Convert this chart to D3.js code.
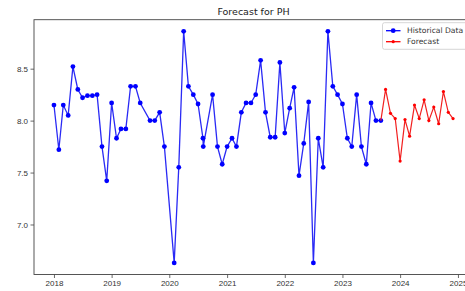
<!DOCTYPE html>
<html>
<head>
<meta charset="utf-8">
<script src="https://cdn.jsdelivr.net/npm/d3@7"></script>
<style>
  body { margin: 0; background: #fff; }
  svg { display: block; font-family: "DejaVu Sans", sans-serif; }
  .axis text { font-size: 8px; fill: #333; }
  .axis line { stroke: #444; stroke-width: 0.8; }
</style>
</head>
<body>
<svg id="chart"></svg>
<script>
// historical pH readings (dates as read from the x positions)
const histDates = [
  "2018-01-01","2018-02-01","2018-03-01","2018-04-01","2018-05-01","2018-06-01",
  "2018-07-01","2018-08-01","2018-09-01","2018-10-01","2018-11-01","2018-12-01",
  "2019-01-01","2019-02-01","2019-03-01","2019-04-01","2019-05-01","2019-06-01",
  "2019-07-01","2019-09-01","2019-10-01","2019-11-01","2019-12-01",
  "2020-02-01","2020-03-01","2020-04-01","2020-05-01","2020-06-01","2020-07-01",
  "2020-08-01","2020-08-03","2020-10-01","2020-11-01","2020-12-01",
  "2021-01-01","2021-02-01","2021-03-01","2021-04-01","2021-05-01","2021-06-01",
  "2021-07-01","2021-08-01","2021-09-01","2021-10-01","2021-11-01","2021-12-01",
  "2022-01-01","2022-02-01","2022-03-01","2022-04-01","2022-05-01","2022-06-01",
  "2022-07-01","2022-08-01","2022-09-01","2022-10-01","2022-11-01","2022-12-01",
  "2023-01-01","2023-02-01","2023-03-01","2023-04-01","2023-05-01","2023-06-01",
  "2023-07-01","2023-08-01","2023-09-01"
];
const histValues = [
  8.15, 7.72, 8.15, 8.05, 8.52, 8.30,
  8.22, 8.24, 8.24, 8.25, 7.75, 7.42,
  8.17, 7.83, 7.92, 7.92, 8.33, 8.33,
  8.17, 8.00, 8.00, 8.08, 7.75,
  6.63, 7.55, 8.86, 8.33, 8.25, 8.16,
  7.83, 7.75, 8.25, 7.75, 7.58,
  7.75, 7.83, 7.75, 8.08, 8.17, 8.17,
  8.25, 8.58, 8.08, 7.84, 7.84, 8.56,
  7.88, 8.12, 8.32, 7.47, 7.78, 8.18,
  6.63, 7.83, 7.55, 8.86, 8.33, 8.25,
  8.16, 7.83, 7.75, 8.25, 7.75, 7.58,
  8.17, 8.00, 8.00
];

const fcDates = [
  "2023-10-01","2023-11-01","2023-12-01","2024-01-01","2024-02-01","2024-03-01",
  "2024-04-01","2024-05-01","2024-06-01","2024-07-01","2024-08-01","2024-09-01",
  "2024-10-01","2024-11-01","2024-12-01"
];
const fcValues = [
  8.30, 8.07, 8.02, 7.61, 8.01, 7.85,
  8.15, 8.02, 8.20, 8.00, 8.13, 7.97,
  8.28, 8.08, 8.02
];

const yTicks = [7.0, 7.5, 8.0, 8.5];

const W = 465, H = 291;
const margin = {top: 19.7, right: -8, bottom: 16.5, left: 34};

const parse = d3.timeParse("%Y-%m-%d");
const hist = histDates.map((d, i) => ({date: parse(d), value: histValues[i]}));
const fc = fcDates.map((d, i) => ({date: parse(d), value: fcValues[i]}));
const all = hist.concat(fc);

let svg = d3.select("#chart").attr("width", W).attr("height", H);

const x0 = d3.extent(all, d => d.date);
const xPad = (x0[1] - x0[0]) * 0.05;
const xScale = d3.scaleTime()
  .domain([new Date(+x0[0] - xPad), new Date(+x0[1] + xPad)])
  .range([margin.left, W - margin.right]);

const y0 = d3.extent(all, d => d.value);
const yPad = (y0[1] - y0[0]) * 0.05;
const yScale = d3.scaleLinear()
  .domain([y0[0] - yPad, y0[1] + yPad])
  .range([H - margin.bottom, margin.top]);

// axes
svg.append("g")
  .attr("class", "axis")
  .attr("transform", `translate(0,${H - margin.bottom})`)
  .call(d3.axisBottom(xScale)
    .ticks(d3.timeYear.every(1))
    .tickFormat(d3.timeFormat("%Y"))
    .tickSize(3.5)
    .tickPadding(2.5))
  .call(g => g.select(".domain").remove());

svg.append("g")
  .attr("class", "axis")
  .attr("transform", `translate(${margin.left},0)`)
  .call(d3.axisLeft(yScale)
    .tickValues(yTicks)
    .tickFormat(d3.format(".1f"))
    .tickSize(3.5)
    .tickPadding(2.5))
  .call(g => g.select(".domain").remove());

// frame
svg.append("rect")
  .attr("x", margin.left)
  .attr("y", margin.top)
  .attr("width", W - margin.right - margin.left)
  .attr("height", H - margin.bottom - margin.top)
  .attr("fill", "none")
  .attr("stroke", "#444")
  .attr("stroke-width", 0.9);

const line = d3.line()
  .x(d => xScale(d.date))
  .y(d => yScale(d.value));

// historical
svg.append("path")
  .datum(hist)
  .attr("fill", "none")
  .attr("stroke", "#2a2af5")
  .attr("stroke-width", 1.3)
  .attr("d", line);

svg.append("g")
  .selectAll("circle")
  .data(hist)
  .join("circle")
  .attr("cx", d => xScale(d.date))
  .attr("cy", d => yScale(d.value))
  .attr("r", 2.4)
  .attr("fill", "#0000ff");

// forecast, joined to the last historical point
svg.append("path")
  .datum([hist[hist.length - 1]].concat(fc))
  .attr("fill", "none")
  .attr("stroke", "#f22020")
  .attr("stroke-width", 1.2)
  .attr("d", line);

svg.append("g")
  .selectAll("circle")
  .data(fc)
  .join("circle")
  .attr("cx", d => xScale(d.date))
  .attr("cy", d => yScale(d.value))
  .attr("r", 1.6)
  .attr("fill", "#ff0000");

// title
svg.append("text")
  .attr("x", (margin.left + W - margin.right) / 2)
  .attr("y", 15)
  .attr("text-anchor", "middle")
  .style("font-size", "9.5px")
  .style("fill", "#222")
  .text("Forecast for PH");

// legend
const legend = svg.append("g").attr("transform", "translate(382.5,22.7)");
legend.append("rect")
  .attr("width", 95).attr("height", 26.6)
  .attr("rx", 2)
  .attr("fill", "#fff").attr("fill-opacity", 0.8)
  .attr("stroke", "#ccc").attr("stroke-width", 0.8);

const entries = [
  {label: "Historical Data", color: "#0000ff", r: 2.4},
  {label: "Forecast", color: "#ff0000", r: 1.6}
];
entries.forEach((e, i) => {
  const g = legend.append("g").attr("transform", `translate(0,${8 + i * 11})`);
  g.append("line").attr("x1", 3.5).attr("x2", 18).attr("stroke", e.color).attr("stroke-width", 1.3);
  g.append("circle").attr("cx", 10.7).attr("r", e.r).attr("fill", e.color);
  g.append("text").attr("x", 24.5).attr("dy", "0.35em")
    .style("font-size", "7.6px").style("fill", "#333").text(e.label);
});
</script>
</body>
</html>
